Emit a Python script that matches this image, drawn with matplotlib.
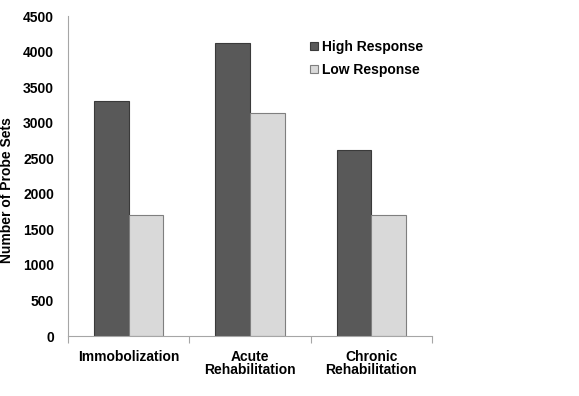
import numpy as np
import matplotlib.pyplot as plt

plt.rcParams['font.family'] = ['Liberation Sans', 'DejaVu Sans']
plt.rcParams['font.weight'] = 'bold'

# Data
categories = ['Immobolization', 'Acute\nRehabilitation', 'Chronic\nRehabilitation']
high_response = [3310, 4120, 2620]
low_response = [1705, 3130, 1695]
series_labels = ['High Response', 'Low Response']
yticks = [0, 500, 1000, 1500, 2000, 2500, 3000, 3500, 4000, 4500]

fig = plt.figure(figsize=(5.79, 3.96), dpi=100)
ax = fig.add_axes([68 / 579, 60 / 396, 364 / 579, 320 / 396])

x = np.arange(len(categories))
w = 0.285
ax.bar(x - w / 2, high_response, w, color='#595959', edgecolor='#3a3a3a',
       linewidth=0.8, label=series_labels[0])
ax.bar(x + w / 2, low_response, w, color='#d9d9d9', edgecolor='#7f7f7f',
       linewidth=0.8, label=series_labels[1])

ax.set_xlim(-0.5, len(categories) - 0.5)
ax.set_ylim(0, 4500)
ax.set_yticks(yticks)
ax.set_yticklabels([str(v) for v in yticks], fontsize=10, fontweight='bold')
ax.tick_params(axis='y', length=0, pad=10)

# category labels at centres, tick marks at the boundaries
ax.set_xticks(x)
ax.set_xticklabels(categories, fontsize=10, fontweight='bold', linespacing=0.95)
ax.tick_params(axis='x', which='major', length=0, pad=10)
ax.set_xticks(np.arange(len(categories) + 1) - 0.5, minor=True)
ax.tick_params(axis='x', which='minor', length=5, width=0.8, color='#a6a6a6', direction='out')

ax.set_ylabel('Number of Probe Sets', fontsize=10, fontweight='bold')
ax.yaxis.set_label_coords(-0.148, 0.456)

for side in ['top', 'right']:
    ax.spines[side].set_visible(False)
for side in ['left', 'bottom']:
    ax.spines[side].set_color('#a6a6a6')
    ax.spines[side].set_linewidth(0.8)

ax.legend(loc='upper left', bbox_to_anchor=(310 / 579, 1 - 40 / 396),
          bbox_transform=fig.transFigure, frameon=False,
          prop={'size': 10, 'weight': 'bold'}, handlelength=0.55,
          handleheight=0.55, handletextpad=0.3, labelspacing=0.65,
          borderpad=0, borderaxespad=0)

fig.savefig('out.png', dpi=100)
